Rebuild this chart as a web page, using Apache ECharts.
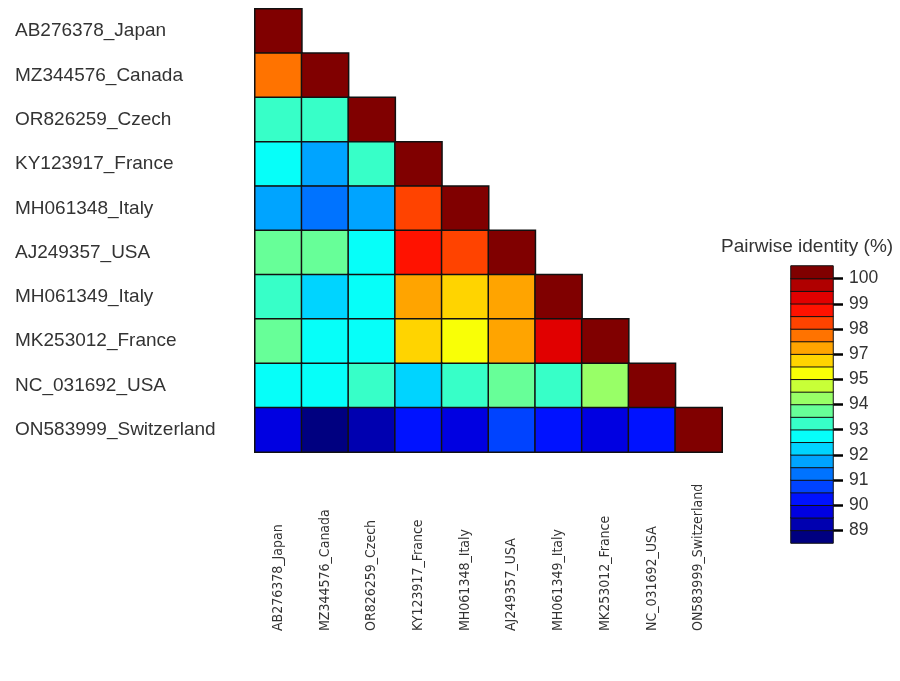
<!DOCTYPE html>
<html>
<head>
<meta charset="utf-8">
<script src="https://cdn.jsdelivr.net/npm/echarts@6/dist/echarts.min.js"></script>
<style>
  html, body { margin: 0; padding: 0; background: #ffffff; }
  #chart { width: 900px; height: 681px; }
</style>
</head>
<body>
<div id="chart"></div>
<script>
// Isolates, in matrix order (top row / left column first)
const isolates = [
  'AB276378_Japan',
  'MZ344576_Canada',
  'OR826259_Czech',
  'KY123917_France',
  'MH061348_Italy',
  'AJ249357_USA',
  'MH061349_Italy',
  'MK253012_France',
  'NC_031692_USA',
  'ON583999_Switzerland'
];

// Lower triangle of the pairwise identity matrix (%), row by row
const identityRows = [
  [100],
  [97.7, 100],
  [93.3, 93.4, 100],
  [92.7, 91.8, 93.1, 100],
  [91.7, 91.4, 91.8, 98.2, 100],
  [93.9, 93.6, 92.8, 98.7, 98.3, 100],
  [93.3, 92.3, 92.8, 97.2, 96.5, 97.2, 100],
  [93.5, 92.7, 92.6, 96.2, 95.5, 97.3, 99.2, 100],
  [92.7, 92.5, 93.0, 92.1, 93.0, 93.8, 93.4, 94.2, 100],
  [89.7, 88.8, 89.2, 90.3, 89.9, 90.6, 90.2, 89.8, 90.1, 100]
];

// Colour classes: band boundaries (%) and one colour per band, low to high
const bandBreaks = [88.5, 89, 89.5, 90, 90.5, 91, 91.5, 92, 92.5, 93, 93.5, 94,
                    94.5, 95, 96, 97, 97.5, 98, 98.5, 99, 99.5, 100, 100.5];
const bandColors = ['#000080', '#0000b0', '#0000e1', '#0012ff', '#0043ff', '#0073ff',
                    '#00a4ff', '#00d4ff', '#06fff9', '#37ffc8', '#67ff98', '#98ff67',
                    '#c8ff37', '#f9ff06', '#ffd400', '#ffa400', '#ff7300', '#ff4300',
                    '#ff1200', '#e10000', '#b00000', '#800000'];

// Colour-bar ticks: positions counted in bands from the bottom, and their labels
const scaleTickPositions = [1, 3, 5, 7, 9, 11, 13, 15, 17, 19, 21];
const scaleTickLabels = ['89', '90', '91', '92', '93', '94', '95', '97', '98', '99', '100'];

const legendTitle = 'Pairwise identity (%)';

const FONT = "'Liberation Sans', Arial, Helvetica, sans-serif";
const NARROW = "'Liberation Sans Narrow', 'Arial Narrow', 'DejaVu Sans Condensed', 'Liberation Sans', sans-serif";

const matrixData = [];
identityRows.forEach((row, r) => {
  row.forEach((v, c) => matrixData.push([c, r, v]));
});

const bandData = bandColors.map((_, i) => [0, i, (bandBreaks[i] + bandBreaks[i + 1]) / 2]);

const pieces = bandColors.map((color, i) => {
  const p = { gte: bandBreaks[i], color: color };
  if (i === bandColors.length - 1) p.lte = bandBreaks[i + 1];
  else p.lt = bandBreaks[i + 1];
  return p;
});

const chart = echarts.init(document.getElementById('chart'), null, { renderer: 'canvas' });

chart.setOption({
  backgroundColor: '#ffffff',
  animation: false,
  title: {
    text: legendTitle,
    left: 721,
    top: 237,
    padding: 0,
    textStyle: { fontFamily: FONT, fontSize: 19, fontWeight: 'normal', color: '#333333' }
  },
  grid: [
    { left: 255, top: 9, width: 467, height: 443 },
    { left: 791, top: 266, width: 42, height: 277 }
  ],
  xAxis: [
    {
      gridIndex: 0,
      type: 'category',
      data: isolates,
      axisLine: { show: false },
      axisTick: { show: false },
      splitLine: { show: false },
      axisLabel: {
        interval: 0,
        rotate: 90,
        align: 'left',
        margin: 179,
        fontFamily: NARROW,
        fontSize: 14,
        color: '#333333'
      }
    },
    {
      gridIndex: 1,
      type: 'category',
      data: [''],
      show: false
    }
  ],
  yAxis: [
    {
      gridIndex: 0,
      type: 'category',
      data: isolates,
      inverse: true,
      axisLine: { show: false },
      axisTick: { show: false },
      splitLine: { show: false },
      axisLabel: {
        interval: 0,
        align: 'left',
        margin: 240,
        padding: [6, 0, 0, 0],
        fontFamily: FONT,
        fontSize: 19,
        color: '#333333'
      }
    },
    {
      gridIndex: 1,
      type: 'category',
      data: bandColors.map((_, i) => 'band' + i),
      show: false
    },
    {
      gridIndex: 1,
      type: 'value',
      min: 0,
      max: bandColors.length,
      position: 'right',
      axisLine: { show: false },
      splitLine: { show: false },
      axisTick: {
        show: true,
        length: 10,
        customValues: scaleTickPositions,
        lineStyle: { color: '#000000', width: 2.5 }
      },
      axisLabel: {
        customValues: scaleTickPositions,
        formatter: v => scaleTickLabels[scaleTickPositions.indexOf(v)],
        margin: 16,
        fontFamily: FONT,
        fontSize: 17.5,
        color: '#333333'
      }
    }
  ],
  visualMap: {
    type: 'piecewise',
    show: false,
    dimension: 2,
    seriesIndex: [0, 1],
    pieces: pieces
  },
  series: [
    {
      name: 'identity',
      type: 'heatmap',
      xAxisIndex: 0,
      yAxisIndex: 0,
      data: matrixData,
      itemStyle: { borderColor: '#111111', borderWidth: 1.5 },
      emphasis: { disabled: true }
    },
    {
      name: 'scale',
      type: 'heatmap',
      xAxisIndex: 1,
      yAxisIndex: 1,
      data: bandData,
      itemStyle: { borderColor: '#111111', borderWidth: 1 },
      emphasis: { disabled: true }
    }
  ]
});
</script>
</body>
</html>
